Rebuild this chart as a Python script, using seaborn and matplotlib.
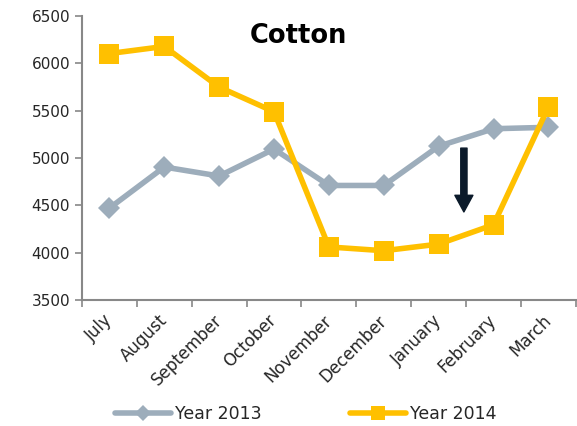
import matplotlib
matplotlib.use("Agg")
import matplotlib.pyplot as plt
import seaborn as sns
import pandas as pd

months = ["July", "August", "September", "October", "November",
          "December", "January", "February", "March"]
year_2013 = [4470, 4905, 4810, 5095, 4710, 4710, 5125, 5310, 5325]
year_2014 = [6105, 6180, 5750, 5490, 4060, 4020, 4090, 4295, 5540]

df = pd.DataFrame({
    "Month": months * 2,
    "x": list(range(len(months))) * 2,
    "Value": year_2013 + year_2014,
    "Series": ["Year 2013"] * len(months) + ["Year 2014"] * len(months),
})

sns.set_style("white")
plt.rcParams["font.family"] = ["DejaVu Sans"]

fig, ax = plt.subplots(figsize=(5.77, 4.26), dpi=100)
fig.subplots_adjust(left=0.142, right=0.998, top=0.962, bottom=0.296)

palette = {"Year 2013": "#9dadbb", "Year 2014": "#ffc000"}
sns.lineplot(data=df, x="x", y="Value", hue="Series", style="Series",
             markers={"Year 2013": "D", "Year 2014": "s"}, dashes=False,
             palette=palette, linewidth=4, ax=ax, legend=False)
for line, ms in zip(ax.lines, [11, 15]):
    line.set_markersize(ms)
    line.set_markeredgewidth(0)

ax.set_xlim(-0.5, len(months) - 0.5)
ax.set_ylim(3500, 6500)
ax.set_yticks(range(3500, 6501, 500))
ax.set_xticks([i for i in range(len(months))])
ax.set_xticklabels(months, rotation=45, ha="right", va="center",
                   rotation_mode="anchor", fontsize=12)
ax.set_xticks([i - 0.5 for i in range(len(months) + 1)], minor=True)
ax.tick_params(axis="x", which="major", length=0, pad=13)
ax.tick_params(axis="x", which="minor", bottom=True, length=5,
               color="#888888", width=1.2)
ax.tick_params(axis="y", left=True, length=5, color="#888888", width=1.2,
               labelsize=11)
ax.set_xlabel("")
ax.set_ylabel("")
for side in ["top", "right"]:
    ax.spines[side].set_visible(False)
for side in ["left", "bottom"]:
    ax.spines[side].set_color("#888888")
    ax.spines[side].set_linewidth(1.5)

ax.text(3.44, 6290, "Cotton", fontsize=18.5, fontweight="bold", ha="center",
        va="center", color="black")

# arrow pointing at the drop
ax.annotate("", xy=(6.46, 4430), xytext=(6.46, 5105),
            arrowprops=dict(width=4.5, headwidth=13, headlength=12,
                            shrink=0, color="#0b1a2a"))

handles = [plt.Line2D([], [], color=palette[s], marker=m, lw=4, markersize=ms,
                      markeredgewidth=0)
           for s, m, ms in [("Year 2013", "D", 8), ("Year 2014", "s", 10)]]
fig.legend(handles, ["Year 2013", "Year 2014"], loc="lower center", ncol=2,
           frameon=False, fontsize=12.5, handlelength=3.2, columnspacing=5.1,
           handletextpad=0.25, bbox_to_anchor=(0.53, -0.03))

fig.savefig("out.png", dpi=100)
